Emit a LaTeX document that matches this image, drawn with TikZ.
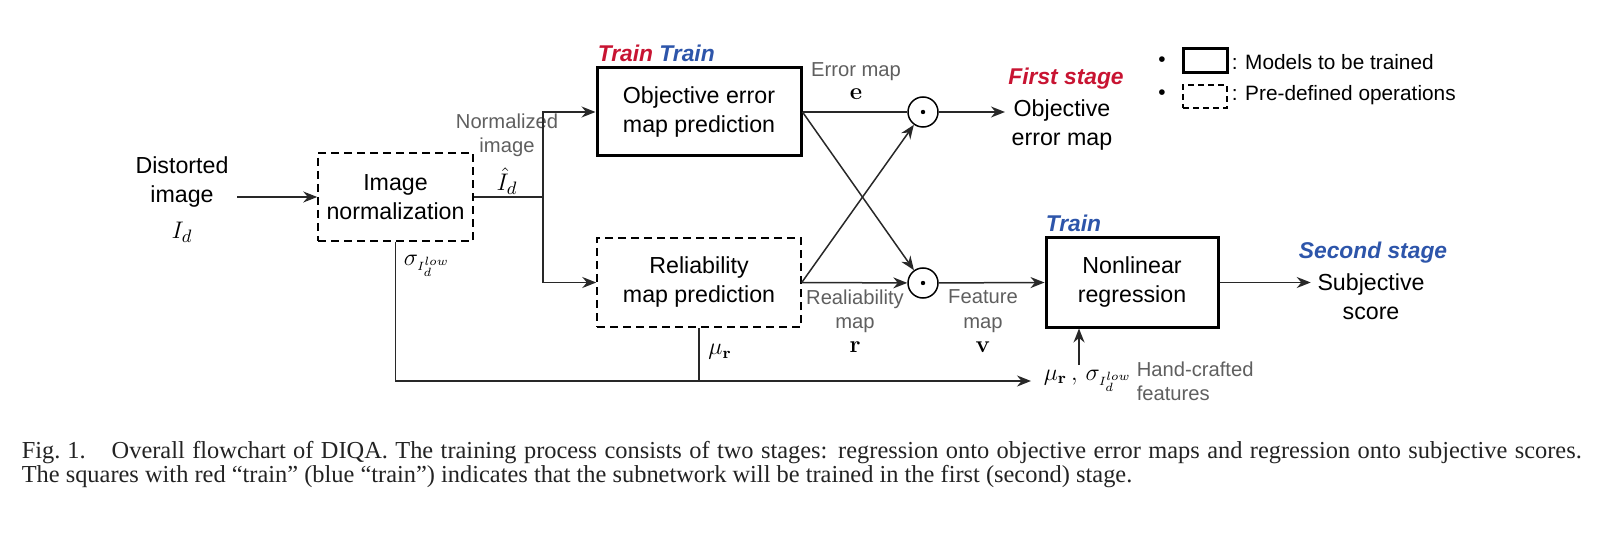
\documentclass[tikz,border=0pt]{standalone}
\usepackage[no-math]{fontspec}
\setmainfont{Liberation Sans}
\newfontfamily\capfont{Liberation Serif}
\usetikzlibrary{arrows.meta}
\definecolor{trainred}{RGB}{200,20,50}
\definecolor{trainblue}{RGB}{45,85,170}
\definecolor{linec}{RGB}{40,40,40}
\definecolor{lblgray}{RGB}{95,95,95}
\definecolor{capc}{RGB}{35,35,35}
\newcommand\mainfs{\fontsize{11.6}{14.5}\selectfont}
\newcommand\lblfs{\fontsize{10.1}{12.2}\selectfont}
\newcommand\stagefs{\fontsize{11.4}{14}\selectfont\bfseries\itshape}
\newcommand\mathfs{\fontsize{13}{15}\selectfont}
\newcommand\bmfs{\fontsize{12}{14}\selectfont}
\newcommand\legfs{\fontsize{10.4}{13}\selectfont}
\begin{document}
\begin{tikzpicture}[x=0.5pt,y=-0.5pt,
  line width=0.75pt,
  >={Stealth[length=7pt,width=5.5pt]},
  conn/.style={draw=linec,->},
  wire/.style={draw=linec},
  trained/.style={draw=black,line width=1.5pt,minimum height=44pt,inner sep=0pt,align=center,font=\mainfs},
  predef/.style={draw=black,dash pattern=on 4pt off 2.5pt,minimum height=44pt,inner sep=0pt,align=center,font=\mainfs},
  txt/.style={inner sep=0pt,align=center,font=\mainfs},
  lbl/.style={inner sep=0pt,align=center,font=\lblfs,text=lblgray},
  stagelbl/.style={inner sep=0pt,font=\stagefs},
  odot/.style={circle,draw=black,line width=0.75pt,minimum size=15pt,inner sep=0pt,
    path picture={\fill[black] (path picture bounding box.center) circle (1.1pt);}},
  leg/.style={inner sep=0pt,anchor=west,font=\legfs}
]
\useasboundingbox (0,0) rectangle (1610,534);

% main blocks
\node[txt] (dist) at (182,182) {Distorted\\image};
\node[inner sep=0pt,font=\mathfs] (Id) at (182,232) {$I_d$};
\coordinate (distout) at (237,197);
\node[predef,minimum width=77.5pt] (norm) at (395.5,197) {Image\\normalization};
\node[trained,minimum width=102pt] (obj) at (699,112) {Objective error\\map prediction};
\node[predef,minimum width=102pt,minimum height=44.5pt] (rel) at (699,282.5) {Reliability\\map prediction};
\node[trained,minimum width=86pt,minimum height=44.5pt] (nl) at (1132,282.5) {Nonlinear\\regression};
\node[odot] (ctop) at (923,112) {};
\node[odot] (cbot) at (923,283) {};
\node[txt,inner sep=3pt] (objout) at (1062,125) {Objective\\error map};
\node[txt,inner sep=3pt] (subj) at (1371,297) {Subjective\\score};
\node[inner sep=0pt,inner xsep=6pt,anchor=west,font=\bmfs] (hc) at (1031,381) {$\mu_{\mathbf{r}}\,,\,\sigma_{\scriptscriptstyle I_d^{low}}$};
\node[lbl,anchor=west,align=left] (hclbl) at (1136,381) {Hand-crafted\\features};

% stage / train labels
\node[stagelbl,anchor=west] (trtop) at (597,53) {\textcolor{trainred}{Train} \textcolor{trainblue}{Train}};
\node[stagelbl,anchor=west,text=trainblue] (trnl) at (1045,223) {Train};
\node[stagelbl,text=trainred] (first) at (1066,79) {First stage};
\node[stagelbl,text=trainblue] (second) at (1373,253) {Second stage};

% signal labels
\node[lbl] (normlbl) at (507,135) {Normalized\\image};
\node[inner sep=0pt,font=\mathfs] (Ihat) at (507,181) {$\hat{I}_d$};
\node[inner sep=0pt,anchor=west,font=\mathfs] (siglbl) at (403,266) {$\sigma_{\scriptscriptstyle I_d^{low}}$};
\node[lbl] (errlbl) at (856,72) {Error map};
\node[inner sep=0pt,font=\bmfs] (elbl) at (856,94) {$\mathbf{e}$};
\node[lbl] (rellbl) at (855,311) {Realiability\\map};
\node[inner sep=0pt,font=\bmfs] (rlbl) at (855,347) {$\mathbf{r}$};
\node[lbl] (featlbl) at (983,311) {Feature\\map};
\node[inner sep=0pt,font=\bmfs] (vlbl) at (983,347) {$\mathbf{v}$};
\node[inner sep=0pt,font=\bmfs] (mulbl) at (720,352) {$\mu_{\mathbf{r}}$};

% connectors
\coordinate (br) at (543,197);
\coordinate (hcup) at (1079,365);
\draw[conn] (distout) -- (norm.west);
\draw[wire] (norm.east) -- (br);
\draw[conn] (br) |- (obj.west);
\draw[conn] (br) |- (rel.west);
\draw[wire] (obj.east) -- (ctop);
\draw[conn] (ctop) -- (ctop -| objout.west);
\draw[conn] (rel.east) -- (cbot);
\draw[conn] (obj.east) -- (cbot);
\draw[conn] (rel.east) -- (ctop);
\draw[conn] (cbot) -- (nl.west);
\draw[conn] (nl.east) -- (nl.east -| subj.west);
\draw[conn] (norm.south) |- (hc.west);
\draw[wire] (rel.south) -- (rel.south |- hc.west);
\draw[conn] (hcup) -- (hcup |- nl.south);

% legend
\node[leg,anchor=center] (b1) at (1162,62) {•};
\node[leg,anchor=center] (b2) at (1162,95) {•};
\node[draw=black,line width=1.5pt,minimum width=22pt,minimum height=12pt,inner sep=0pt] (legA) at (1205,61) {};
\node[draw=black,dash pattern=on 3pt off 2pt,minimum width=22pt,minimum height=11.5pt,inner sep=0pt] (legB) at (1205,96.5) {};
\node[leg] (legAt) at (1231,62) {: Models to be trained};
\node[leg] (legBt) at (1231,95) {: Pre-defined operations};

% caption
\node[anchor=north west,inner sep=0pt,text width=780pt,align=justify,text=capc,
  font=\capfont\fontsize{12.2}{12}\selectfont] (cap) at (21,441)
  {Fig.\kern3.5pt1.\hspace{13pt}Overall flowchart of DIQA. The training process consists of two stages: regression onto objective error maps and regression onto subjective scores.\linebreak
  The squares with red “train” (blue “train”) indicates that the subnetwork will be trained in the first (second) stage.};
\end{tikzpicture}
\end{document}
